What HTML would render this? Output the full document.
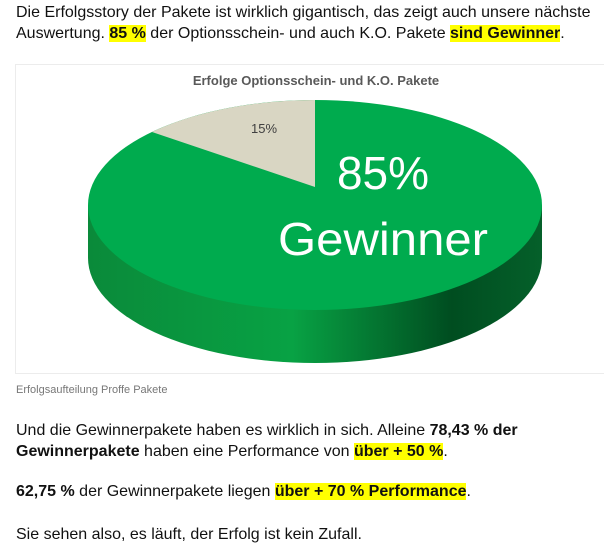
<!DOCTYPE html>
<html><head><meta charset="utf-8"><style>
body{margin:0;width:604px;height:553px;background:#fff;position:relative;overflow:hidden;font-family:"Liberation Sans",Arial,sans-serif;color:#111;}
.l{position:absolute;left:16px;font-size:16px;line-height:20px;white-space:nowrap;}
.h{background:#ffff00;}
b{font-weight:bold;}
</style></head><body>
<div class="l" style="top:3px">Die Erfolgsstory der Pakete ist wirklich gigantisch, das zeigt auch unsere nächste</div>
<div class="l" style="top:24px">Auswertung. <b class="h">85 %</b> der Optionsschein- und auch K.O. Pakete <b class="h">sind Gewinner</b>.</div>
<svg style="position:absolute;left:0;top:0" width="604" height="553">
<defs>
<linearGradient id="side" x1="0" x2="1" y1="0" y2="0">
<stop offset="0" stop-color="#0a8a3a"/><stop offset="0.45" stop-color="#08a244"/><stop offset="0.8" stop-color="#004d20"/><stop offset="1" stop-color="#05602a"/>
</linearGradient>
</defs>
<rect x="15.5" y="64.5" width="600" height="309" fill="#fff" stroke="#ececec"/>
<text x="316" y="85" text-anchor="middle" font-family="Liberation Sans" font-weight="bold" font-size="13" fill="#595959">Erfolge Optionsschein- und K.O. Pakete</text>
<path d="M88,205 L88,258 A227,105 0 0 0 542,258 L542,205 Z" fill="url(#side)"/>
<ellipse cx="315" cy="205" rx="227" ry="105" fill="#00ab4e"/>
<path d="M315,187 L315,100 A227,105 0 0 0 152,132 Z" fill="#d9d6c3"/>
<text x="264" y="133" text-anchor="middle" font-family="Liberation Sans" font-size="13" fill="#404040">15%</text>
<text x="383" y="189" text-anchor="middle" font-family="Liberation Sans" font-size="46" fill="#fff">85%</text>
<text x="383" y="255" text-anchor="middle" font-family="Liberation Sans" font-size="46" fill="#fff" textLength="210" lengthAdjust="spacingAndGlyphs">Gewinner</text>
</svg>
<div style="position:absolute;left:16px;top:384px;font-size:11px;color:#777;">Erfolgsaufteilung Proffe Pakete</div>
<div class="l" style="top:421px">Und die Gewinnerpakete haben es wirklich in sich. Alleine <b>78,43 % der</b></div>
<div class="l" style="top:442px"><b>Gewinnerpakete</b> haben eine Performance von <b class="h">über + 50 %</b>.</div>
<div class="l" style="top:482px"><b>62,75 %</b> der Gewinnerpakete liegen <b class="h">über + 70 % Performance</b>.</div>
<div class="l" style="top:525px">Sie sehen also, es läuft, der Erfolg ist kein Zufall.</div>
</body></html>
